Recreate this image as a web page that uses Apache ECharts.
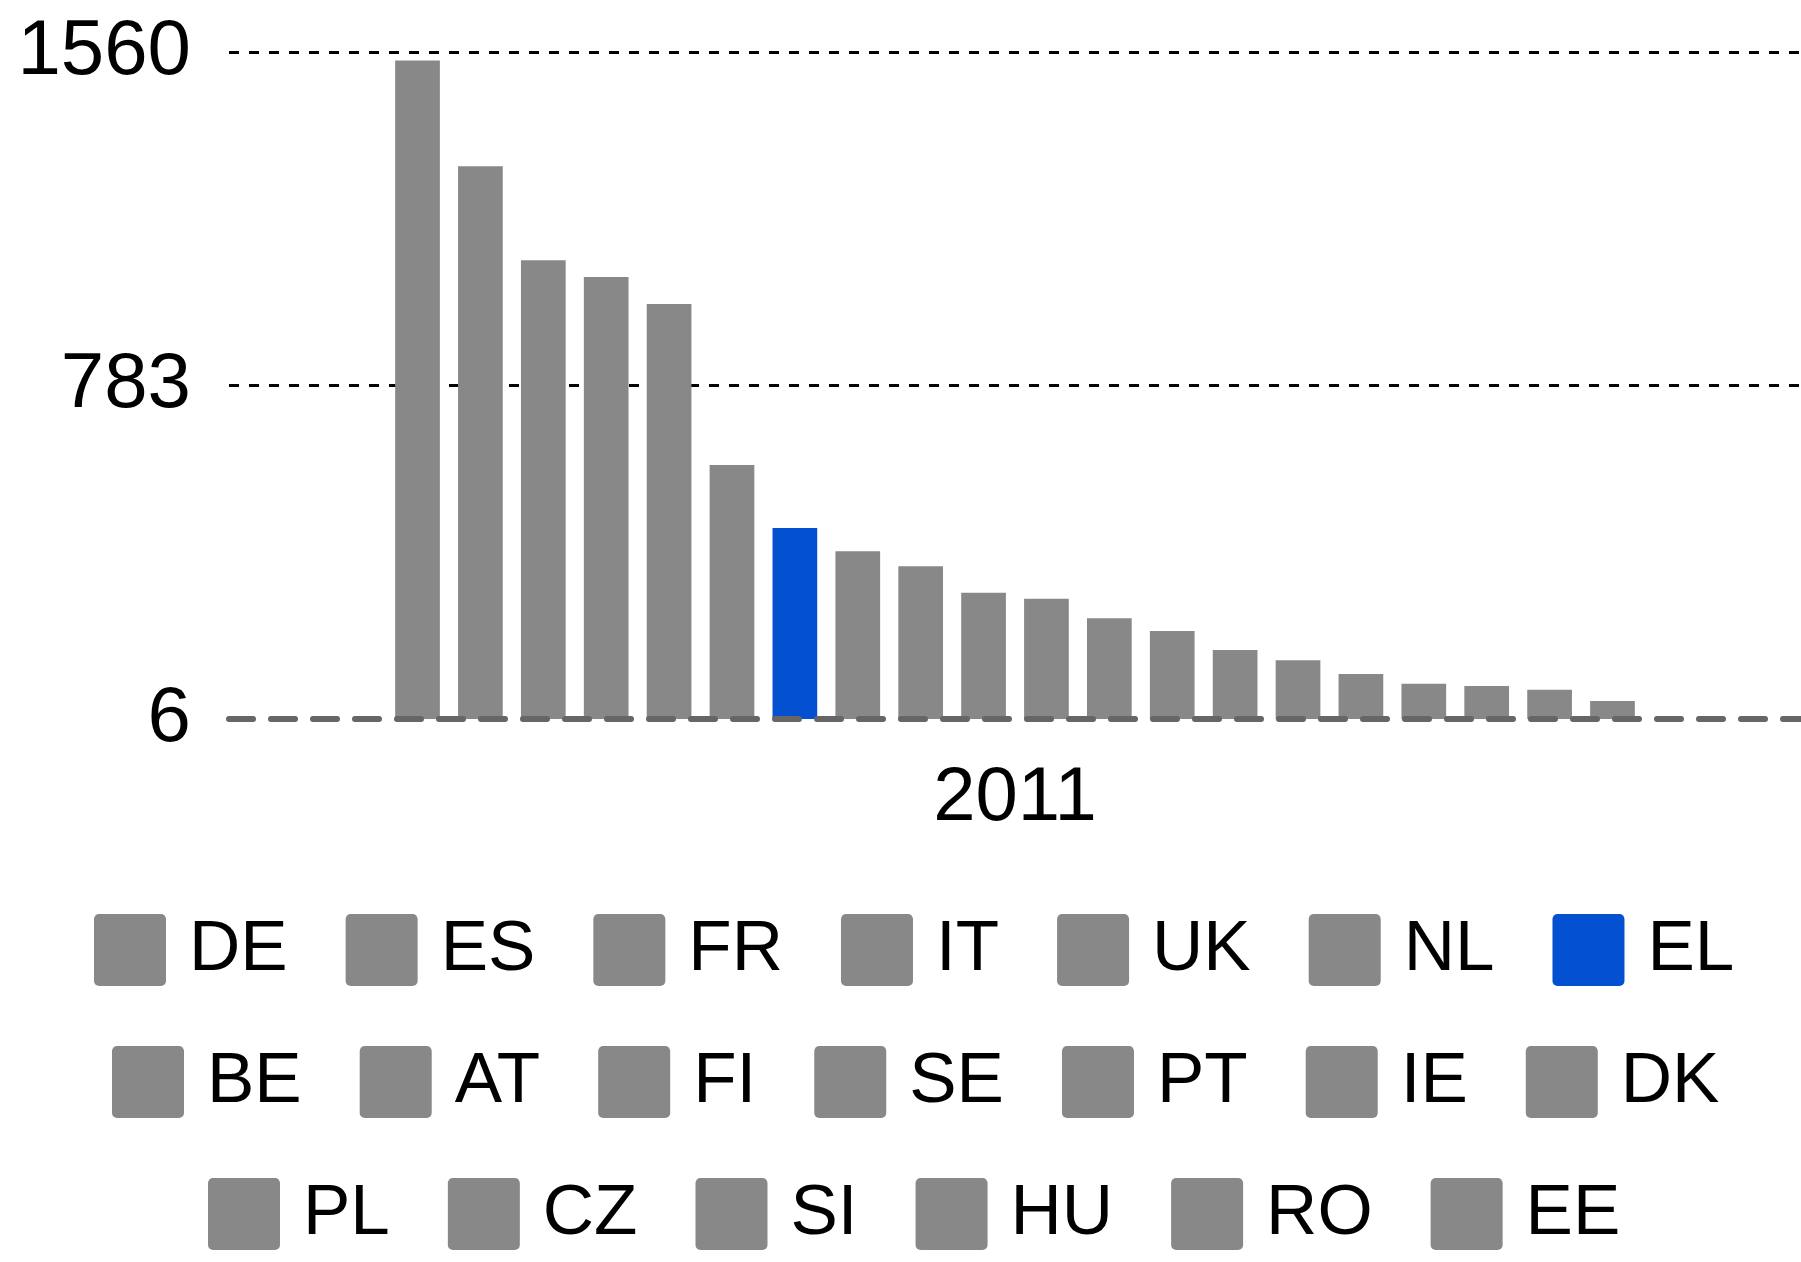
<!DOCTYPE html>
<html>
<head>
<meta charset="utf-8">
<script src="https://cdn.jsdelivr.net/npm/echarts@6/dist/echarts.min.js"></script>
<style>
  html, body { margin: 0; padding: 0; background: #fff; }
  #main { width: 1801px; height: 1262px; }
</style>
</head>
<body>
<div id="main"></div>
<script>
// countries in chart order (sorted by value)
var countries = ['DE', 'ES', 'FR', 'IT', 'UK', 'NL', 'EL', 'BE', 'AT', 'FI', 'SE', 'PT', 'IE', 'DK', 'PL', 'CZ', 'SI', 'HU', 'RO', 'EE'];
var values = [1540, 1294, 1075, 1036, 973, 598, 451, 397, 362, 300, 286, 241, 211, 167, 143, 111, 88, 83, 74, 48];
var years = ['2011'];
var yTicks = [6, 783, 1560];
var highlight = 'EL';

var legendRows = [countries.slice(0, 7), countries.slice(7, 14), countries.slice(14)];

var FONT = '"Liberation Sans", Arial, sans-serif';
var GREY = '#888888';
var BLUE = '#0350D0';

var chart = echarts.init(document.getElementById('main'));

var series = countries.map(function (c, i) {
    return {
        name: c,
        type: 'bar',
        data: [values[i]],
        barWidth: 44.7,
        barGap: '40.7%',
        itemStyle: { color: c === highlight ? BLUE : GREY },
        emphasis: { disabled: true }
    };
});

// one legend per row so each row sits where the reference puts it
var legendLeft = [94, 112, 208];
var legendTop = [914, 1046, 1178];
var legends = legendRows.map(function (row, r) {
    return {
        data: row,
        orient: 'horizontal',
        left: legendLeft[r],
        top: legendTop[r],
        padding: 0,
        itemWidth: 72,
        itemHeight: 72,
        itemGap: 58,
        selectedMode: false,
        icon: 'path://M0.7,0H9.3A0.7,0.7,0,0,1,10,0.7V9.3A0.7,0.7,0,0,1,9.3,10H0.7A0.7,0.7,0,0,1,0,9.3V0.7A0.7,0.7,0,0,1,0.7,0Z',
        textStyle: {
            fontFamily: FONT,
            fontSize: 71,
            color: '#000',
            padding: [0, 0, 0, 18]
        }
    };
});

chart.setOption({
    animation: false,
    backgroundColor: '#fff',
    grid: { left: 229, right: 0, top: 52, bottom: 543, containLabel: false },
    xAxis: {
        type: 'category',
        data: years,
        z: 3,
        axisLine: {
            show: true,
            lineStyle: { color: '#666666', width: 6, type: [24, 18] }
        },
        axisTick: { show: false },
        axisLabel: {
            fontFamily: FONT,
            fontSize: 76,
            color: '#000',
            margin: 42
        },
        splitLine: { show: false }
    },
    yAxis: {
        type: 'value',
        min: 6,
        max: 1560,
        axisLine: { show: false },
        axisTick: { show: false, customValues: [783, 1560] },
        axisLabel: {
            customValues: yTicks,
            formatter: function (v) { return String(v); },
            fontFamily: FONT,
            fontSize: 78,
            color: '#000',
            margin: 38
        },
        splitLine: {
            show: true,
            lineStyle: { color: '#000', width: 3, type: [10, 10] }
        }
    },
    legend: legends,
    series: series
});
</script>
</body>
</html>
